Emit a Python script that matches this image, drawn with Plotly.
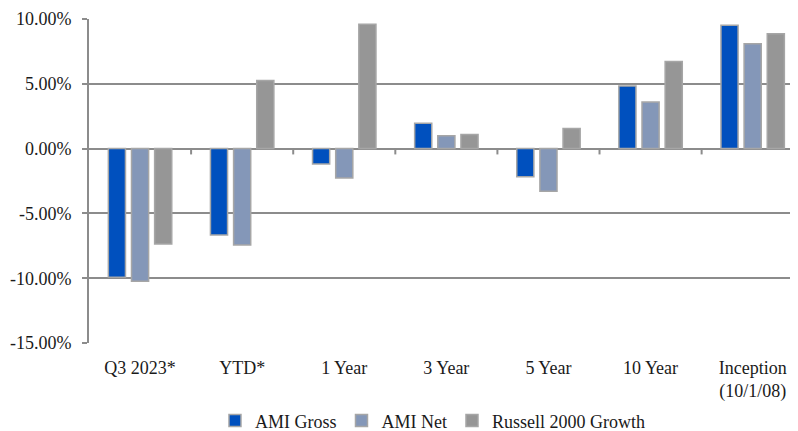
import plotly.graph_objects as go

categories = ["Q3 2023*", "YTD*", "1 Year", "3 Year", "5 Year", "10 Year", "Inception<br>(10/1/08)"]
ami_gross = [-9.92, -6.67, -1.19, 1.96, -2.17, 4.83, 9.51]
ami_net = [-10.23, -7.44, -2.27, 1.00, -3.30, 3.59, 8.09]
russell = [-7.36, 5.25, 9.60, 1.08, 1.55, 6.72, 8.86]
y_ticks = [-15, -10, -5, 0, 5, 10]
y_tick_labels = ["-15.00%", "-10.00%", "-5.00%", "0.00%", "5.00%", "10.00%"]

FONT = "Liberation Serif"
GRID = "#8C8C8C"
BORDER = "#A6A6A6"
TXT = "#1a1a1a"

fig = go.Figure()
for name, vals, col in [
    ("AMI Gross", ami_gross, "#0050BE"),
    ("AMI Net", ami_net, "#8497B8"),
    ("Russell 2000 Growth", russell, "#969696"),
]:
    fig.add_trace(go.Bar(
        x=list(range(len(categories))), y=vals, name=name,
        marker=dict(color=col, line=dict(color=BORDER, width=1.5)),
    ))

# category tick marks on the zero line
for i in range(len(categories) - 1):
    fig.add_shape(type="line", xref="x", yref="y", x0=i + 0.5, x1=i + 0.5,
                  y0=0, y1=-0.45, line=dict(color=GRID, width=2))

fig.update_layout(
    width=790, height=423,
    margin=dict(l=81, r=0, t=11, b=88, autoexpand=False),
    paper_bgcolor="white", plot_bgcolor="white",
    barmode="group", bargap=0.32, bargroupgap=0.26,
    font=dict(family=FONT, size=18, color=TXT),
    showlegend=True,
    legend=dict(orientation="h", x=0.262, xanchor="left", xref="container",
                y=0.024, yanchor="middle", yref="container",
                font=dict(family=FONT, size=18, color=TXT), itemwidth=30,
                traceorder="normal", tracegroupgap=0),
    xaxis=dict(
        tickmode="array", tickvals=list(range(len(categories))), ticktext=categories,
        range=[-0.5, 6.444], showgrid=False, zeroline=False, showline=False,
        ticks="", ticklabelstandoff=12, fixedrange=True,
        tickfont=dict(family=FONT, size=18, color=TXT),
    ),
    yaxis=dict(
        range=[-15, 10], tickmode="array", tickvals=y_ticks, ticktext=y_tick_labels,
        showgrid=True, gridcolor=GRID, gridwidth=2,
        zeroline=True, zerolinecolor=GRID, zerolinewidth=2,
        showline=True, linecolor=GRID, linewidth=2,
        ticks="outside", ticklen=5, tickcolor=GRID, tickwidth=2,
        ticklabelstandoff=7,
        tickfont=dict(family=FONT, size=18, color=TXT),
    ),
)

fig.write_html("out.html")
